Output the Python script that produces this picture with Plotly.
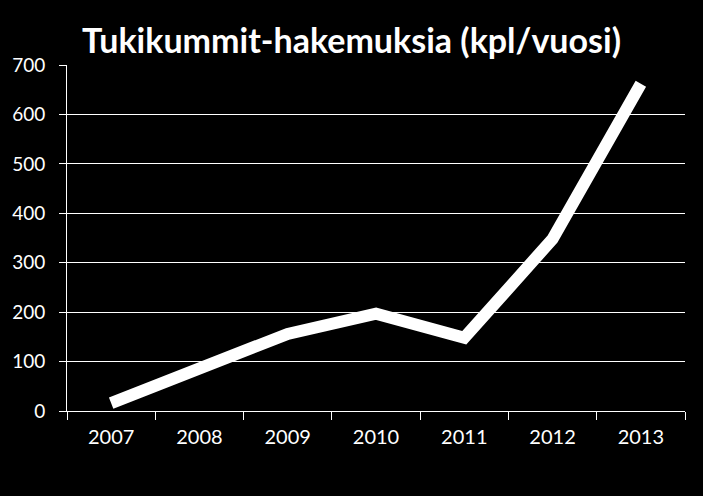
import plotly.graph_objects as go

years = ["2007", "2008", "2009", "2010", "2011", "2012", "2013"]
applications = [16, 89, 156, 197, 148, 348, 662]
y_ticks = [0, 100, 200, 300, 400, 500, 600, 700]

fig = go.Figure()
fig.add_trace(go.Scatter(
    x=years, y=applications, mode="lines",
    line=dict(color="white", width=12),
    hoverinfo="x+y",
))

fig.update_layout(
    width=703, height=496,
    paper_bgcolor="black", plot_bgcolor="black",
    margin=dict(l=67, r=18, t=65, b=85),
    showlegend=False,
    title=dict(
        text="<b>Tukikummit-hakemuksia (kpl/vuosi)</b>",
        x=0.5, xanchor="center", y=0.918, yanchor="middle",
        font=dict(family="Lato", size=34, color="white"),
    ),
    font=dict(family="Lato", color="white", size=19),
)
fig.update_xaxes(
    type="category", tickson="boundaries", ticks="outside", ticklen=8,
    tickcolor="white", showline=True, linecolor="white", linewidth=1,
    showgrid=False, tickfont=dict(family="Lato", size=20, color="white"),
    range=[-0.5, 6.5], ticklabelstandoff=8,
)
fig.update_yaxes(
    range=[0, 700], tickvals=y_ticks, showgrid=True, gridcolor="white",
    gridwidth=1, showline=True, linecolor="white", linewidth=1,
    ticks="outside", ticklen=7, tickcolor="white", zeroline=False,
    tickfont=dict(family="Lato", size=19, color="white"),
    ticklabelstandoff=10,
)

fig.write_html(
    "out.html",
    config={"displayModeBar": False},
    post_script="document.body.style.margin='0';document.body.style.background='black';",
)
